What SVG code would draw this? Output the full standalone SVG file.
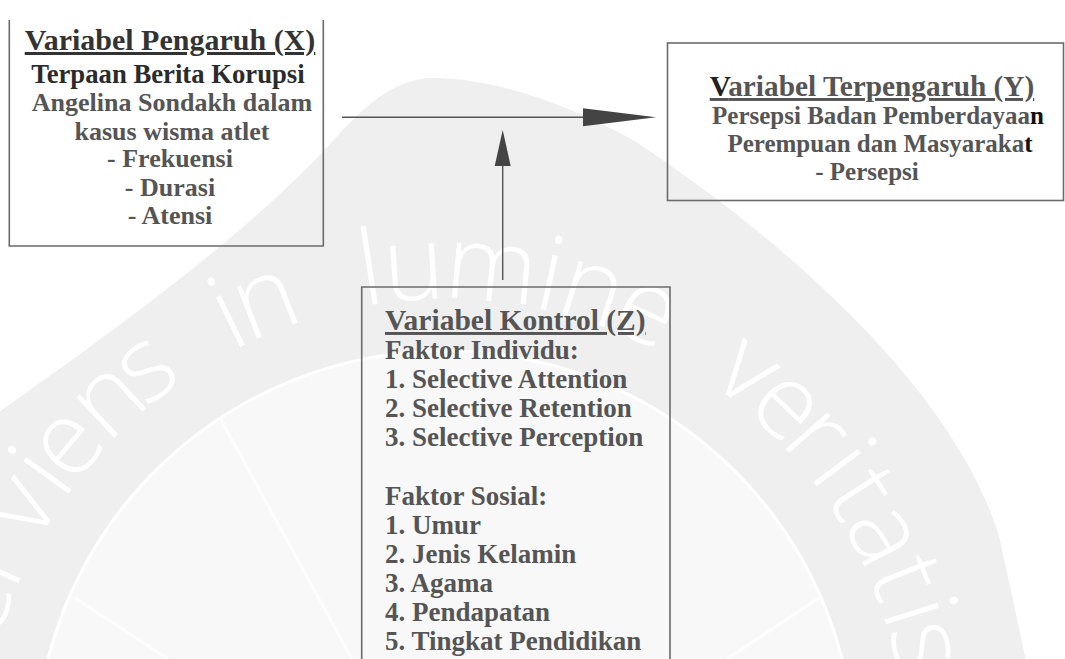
<svg xmlns="http://www.w3.org/2000/svg" width="1065" height="659" viewBox="0 0 1065 659">
<defs>
<style>
.box{fill:none;stroke:#6b6b6b;stroke-width:1.6}
.t{font-family:"Liberation Serif","Times New Roman",serif;font-weight:bold;fill:#555}
.c{text-anchor:middle}
.h{text-decoration:underline;text-decoration-skip-ink:none}
.ln{stroke:#555;stroke-width:1.4;fill:none}
.ah{fill:#444}
.wml{stroke:#fdfdfd;stroke-width:3;fill:none}
.wmt{font-family:"Open Sans","DejaVu Sans",sans-serif;font-weight:300;font-size:104px;fill:#fff;text-anchor:middle}
</style>
</defs>
<rect x="0" y="0" width="1065" height="659" fill="#fff"/>
<g id="watermark">
<path d="M -5,415 C 100,340 250,235 340,133 C 370,100 400,78 433,78 C 500,78 580,110 633,140 C 800,250 960,400 1000,540 L 1028,670 L -5,670 Z" fill="#efefef"/>
<circle cx="445" cy="761" r="410" fill="#f8f8f8" stroke="#fff" stroke-width="3"/>
<path class="wml" d="M220,418 L352,659 M75,598 L168,659 M822,596 L727,659"/>
<g class="wmt">
<text x="445" y="299" transform="rotate(-71.5 445 761)">e</text>
<text x="445" y="299" transform="rotate(-66 445 761)">r</text>
<text x="445" y="299" transform="rotate(-59 445 761)">v</text>
<text x="445" y="299" transform="rotate(-54.3 445 761)">i</text>
<text x="445" y="299" transform="rotate(-50 445 761)">e</text>
<text x="445" y="299" transform="rotate(-43 445 761)">n</text>
<text x="445" y="299" transform="rotate(-37.3 445 761)">s</text>
<text x="445" y="299" transform="rotate(-26 445 761)">i</text>
<text x="445" y="299" transform="rotate(-21.3 445 761)">n</text>
<text x="445" y="299" transform="rotate(-8.7 445 761)">l</text>
<text x="445" y="299" transform="rotate(-3.6 445 761)">u</text>
<text x="445" y="299" transform="rotate(5.4 445 761)">m</text>
<text x="445" y="299" transform="rotate(12.3 445 761)">i</text>
<text x="445" y="299" transform="rotate(17.4 445 761)">n</text>
<text x="445" y="299" transform="rotate(24.2 445 761)">e</text>
<text x="445" y="299" transform="rotate(37.8 445 761)">v</text>
<text x="445" y="299" transform="rotate(43.9 445 761)">e</text>
<text x="445" y="299" transform="rotate(48.9 445 761)">r</text>
<text x="445" y="299" transform="rotate(53.2 445 761)">i</text>
<text x="445" y="299" transform="rotate(57.3 445 761)">t</text>
<text x="445" y="299" transform="rotate(62.7 445 761)">a</text>
<text x="445" y="299" transform="rotate(68.3 445 761)">t</text>
<text x="445" y="299" transform="rotate(72.5 445 761)">i</text>
<text x="445" y="299" transform="rotate(76.5 445 761)">s</text>
</g>
</g>
<g id="connectors">
<line class="ln" x1="342" y1="117.3" x2="585" y2="117.3"/>
<polygon class="ah" points="583,108.3 656,117.3 583,126.3"/>
<line class="ln" x1="502.7" y1="280" x2="502.7" y2="164"/>
<polygon class="ah" points="494.7,166 502.7,130 510.7,166"/>
</g>
<g id="node-x">
<path class="box" d="M9.3,20 L9.3,246 L323.3,246 L323.3,20"/>
<text class="t c h" x="170" y="50" font-size="30" style="fill:#333">Variabel Pengaruh (X)</text>
<text class="t c" x="168" y="83" font-size="26.7" style="fill:#2b2b2b">Terpaan Berita Korupsi</text>
<text class="t c" x="172" y="111" font-size="26">Angelina Sondakh dalam</text>
<text class="t c" x="172" y="140" font-size="26">kasus wisma atlet</text>
<text class="t c" x="170" y="167" font-size="26">- Frekuensi</text>
<text class="t c" x="170" y="196" font-size="26">- Durasi</text>
<text class="t c" x="170" y="224" font-size="26">- Atensi</text>
</g>
<g id="node-y">
<rect class="box" x="667.5" y="43" width="396" height="157.5"/>
<text class="t c h" x="872" y="96" font-size="29.3"><tspan style="fill:#222">V</tspan>ariabel Terpengaruh (Y)</text>
<text class="t c" x="878" y="124" font-size="25">Persepsi Badan Pemberdayaa<tspan style="fill:#111">n</tspan></text>
<text class="t c" x="880" y="152" font-size="25">Perempuan dan Masyaraka<tspan style="fill:#111">t</tspan></text>
<text class="t c" x="867" y="180" font-size="25">- Persepsi</text>
</g>
<g id="node-z">
<path class="box" d="M361.7,662 L361.7,287 L670,287 L670,662"/>
<text class="t h" x="385" y="330" font-size="29.5">Variabel Kontrol (Z)</text>
<text class="t" x="385" y="359" font-size="27">Faktor Individu:</text>
<text class="t" x="385" y="388" font-size="27">1. Selective Attention</text>
<text class="t" x="385" y="417" font-size="27">2. Selective Retention</text>
<text class="t" x="385" y="446" font-size="27">3. Selective Perception</text>
<text class="t" x="385" y="505" font-size="27">Faktor Sosial:</text>
<text class="t" x="385" y="534" font-size="27">1. Umur</text>
<text class="t" x="385" y="563" font-size="27">2. Jenis Kelamin</text>
<text class="t" x="385" y="592" font-size="27">3. Agama</text>
<text class="t" x="385" y="621" font-size="27">4. Pendapatan</text>
<text class="t" x="385" y="650" font-size="27">5. Tingkat Pendidikan</text>
</g>
</svg>
